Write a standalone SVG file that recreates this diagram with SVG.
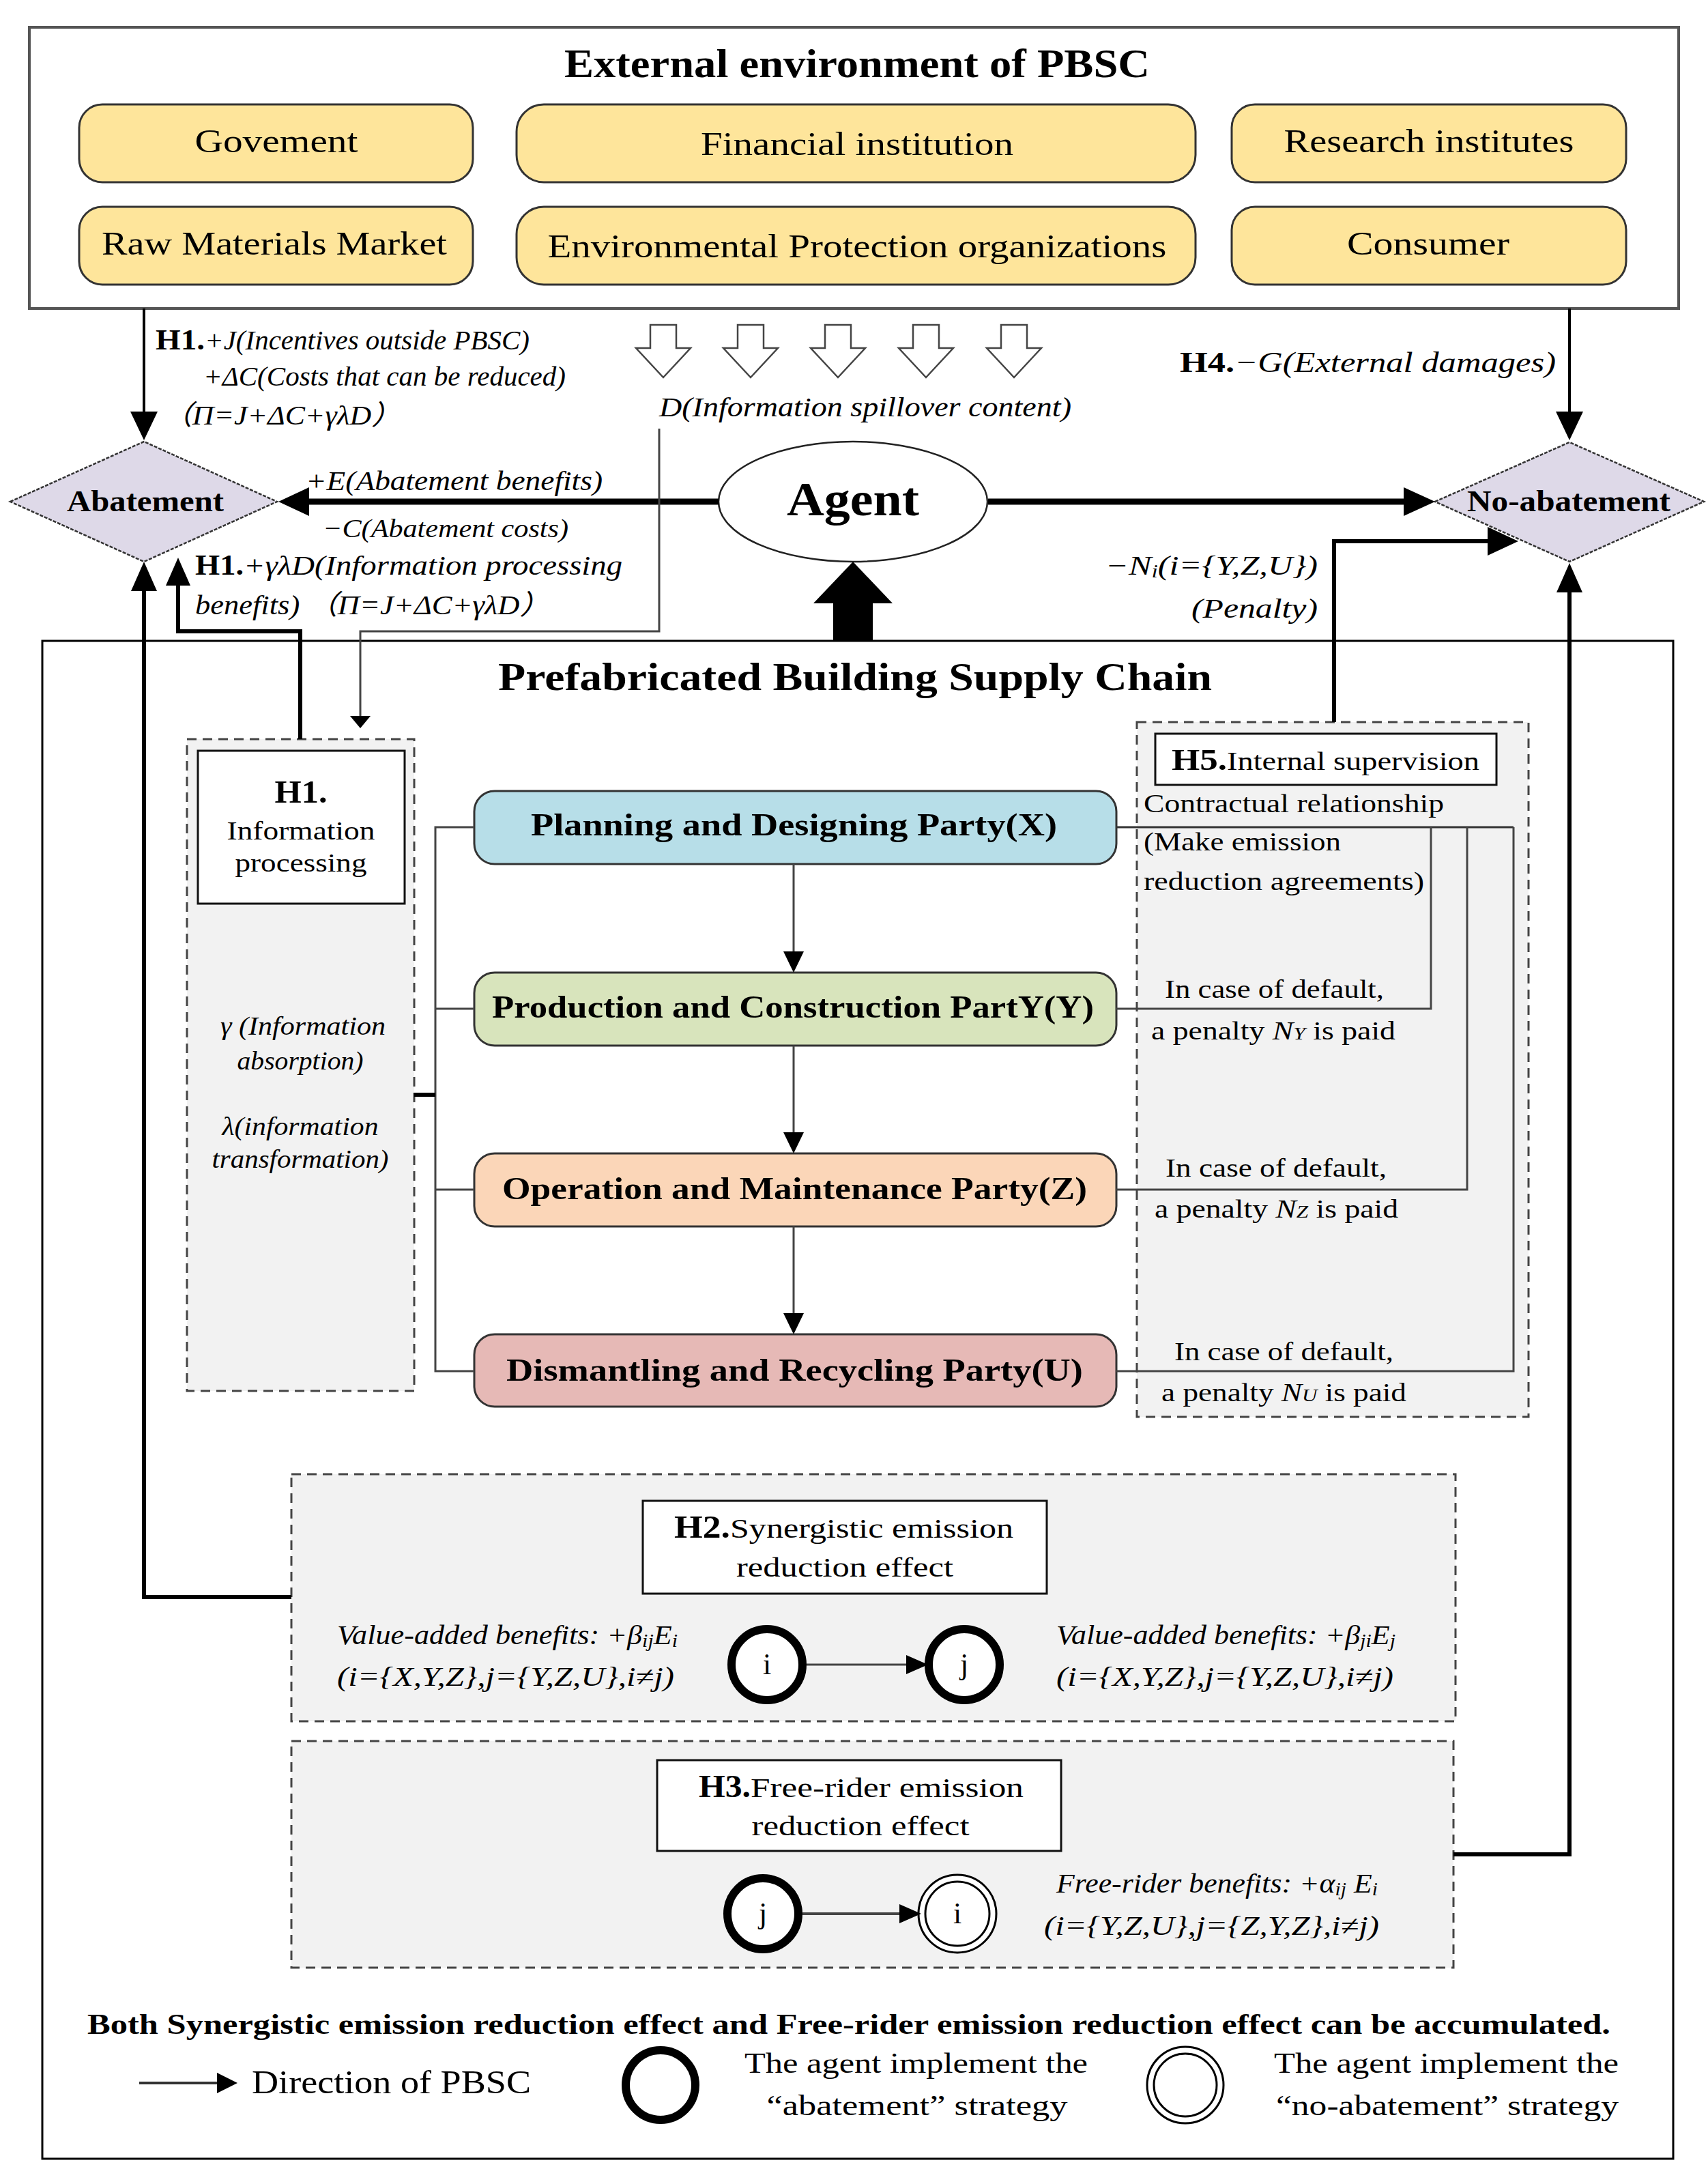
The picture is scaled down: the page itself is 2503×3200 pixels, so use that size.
<svg xmlns="http://www.w3.org/2000/svg" width="2503" height="3200" viewBox="0 0 2503 3200">
<style>
text{font-family:"Liberation Serif","Noto Sans CJK SC",serif;fill:#000}
.b{font-weight:bold}
.i{font-style:italic}
.ybox{fill:#FEE59B;stroke:#333;stroke-width:3}
.dia{fill:#DED9E8;stroke:#333;stroke-width:2.5;stroke-dasharray:5 2}
.dash{fill:#F2F2F2;stroke:#444;stroke-width:3;stroke-dasharray:14 9}
.wbox{fill:#fff;stroke:#111;stroke-width:3}
.party{stroke:#333;stroke-width:3}
.thin{fill:none;stroke:#444;stroke-width:3}
.thick{fill:none;stroke:#000;stroke-width:6}
.hollow{fill:#fff;stroke:#444;stroke-width:2.5}
.ring{fill:#fff;stroke:#000;stroke-width:12}
.dring{fill:#fff;stroke:#000;stroke-width:3}
.ah{fill:#000}
</style>
<rect width="2503" height="3200" fill="#fff"/>

<!-- External environment -->
<g id="external-environment">
<rect x="43" y="40" width="2417" height="412" fill="#fff" stroke="#555" stroke-width="4"/>
<text class="b" x="1256" y="113" font-size="60" text-anchor="middle" textLength="858" lengthAdjust="spacingAndGlyphs">External environment of PBSC</text>
</g>
<g id="govement"><rect class="ybox" x="116" y="153" width="577" height="114" rx="34"/><text x="405" y="223" font-size="48" text-anchor="middle" textLength="239" lengthAdjust="spacingAndGlyphs">Govement</text></g>
<g id="financial-institution"><rect class="ybox" x="757" y="153" width="995" height="114" rx="40"/><text x="1256" y="227" font-size="48" text-anchor="middle" textLength="458" lengthAdjust="spacingAndGlyphs">Financial institution</text></g>
<g id="research-institutes"><rect class="ybox" x="1805" y="153" width="578" height="114" rx="34"/><text x="2094" y="223" font-size="48" text-anchor="middle" textLength="425" lengthAdjust="spacingAndGlyphs">Research institutes</text></g>
<g id="raw-materials-market"><rect class="ybox" x="116" y="303" width="577" height="114" rx="34"/><text x="402" y="373" font-size="48" text-anchor="middle" textLength="506" lengthAdjust="spacingAndGlyphs">Raw Materials Market</text></g>
<g id="environmental-protection"><rect class="ybox" x="757" y="303" width="995" height="114" rx="40"/><text x="1256" y="377" font-size="48" text-anchor="middle" textLength="907" lengthAdjust="spacingAndGlyphs">Environmental Protection organizations</text></g>
<g id="consumer"><rect class="ybox" x="1805" y="303" width="578" height="114" rx="34"/><text x="2093" y="373" font-size="48" text-anchor="middle" textLength="238" lengthAdjust="spacingAndGlyphs">Consumer</text></g>

<!-- Decision nodes -->
<g id="abatement"><polygon class="dia" points="15,735 211,647 406,735 211,823"/><text class="b" x="213" y="749" font-size="44" text-anchor="middle" textLength="230" lengthAdjust="spacingAndGlyphs">Abatement</text></g>
<g id="no-abatement"><polygon class="dia" points="2103,735 2300,648 2497,735 2300,823"/><text class="b" x="2299" y="749" font-size="44" text-anchor="middle" textLength="298" lengthAdjust="spacingAndGlyphs">No-abatement</text></g>
<g id="agent"><ellipse cx="1250" cy="735" rx="197" ry="88" fill="#fff" stroke="#222" stroke-width="2.5"/><text class="b" x="1250" y="755" font-size="70" text-anchor="middle" textLength="194" lengthAdjust="spacingAndGlyphs">Agent</text></g>

<!-- PBSC frame -->
<g id="pbsc">
<rect x="62" y="939" width="2390" height="2224" fill="none" stroke="#000" stroke-width="3"/>
<text class="b" x="730" y="1011" font-size="58" textLength="1046" lengthAdjust="spacingAndGlyphs">Prefabricated Building Supply Chain</text>
</g>

<!-- H1 box -->
<g id="h1-information-processing">
<rect class="dash" x="274" y="1083" width="333" height="955"/>
<rect class="wbox" x="290" y="1100" width="303" height="224"/>
<text class="b" x="441" y="1176" font-size="46" text-anchor="middle" textLength="77" lengthAdjust="spacingAndGlyphs">H1.</text>
<text x="441" y="1230" font-size="38" text-anchor="middle" textLength="217" lengthAdjust="spacingAndGlyphs">Information</text>
<text x="441" y="1277" font-size="38" text-anchor="middle" textLength="193" lengthAdjust="spacingAndGlyphs">processing</text>
<text class="i" x="444" y="1516" font-size="38" text-anchor="middle" textLength="242" lengthAdjust="spacingAndGlyphs">γ (Information</text>
<text class="i" x="440" y="1567" font-size="38" text-anchor="middle" textLength="185" lengthAdjust="spacingAndGlyphs">absorption)</text>
<text class="i" x="440" y="1663" font-size="38" text-anchor="middle" textLength="229" lengthAdjust="spacingAndGlyphs">λ(information</text>
<text class="i" x="440" y="1711" font-size="38" text-anchor="middle" textLength="259" lengthAdjust="spacingAndGlyphs">transformation)</text>
</g>

<!-- Parties -->
<g id="party-x"><rect class="party" x="695" y="1159" width="941" height="107" rx="30" fill="#B7DEE8"/><text class="b" x="778" y="1224" font-size="46" textLength="771" lengthAdjust="spacingAndGlyphs">Planning and Designing Party(X)</text></g>
<g id="party-y"><rect class="party" x="695" y="1425" width="941" height="107" rx="30" fill="#D8E4BC"/><text class="b" x="721" y="1491" font-size="46" textLength="882" lengthAdjust="spacingAndGlyphs">Production and Construction PartY(Y)</text></g>
<g id="party-z"><rect class="party" x="695" y="1690" width="941" height="107" rx="30" fill="#FBD6B8"/><text class="b" x="736" y="1757" font-size="46" textLength="857" lengthAdjust="spacingAndGlyphs">Operation and Maintenance Party(Z)</text></g>
<g id="party-u"><rect class="party" x="695" y="1955" width="941" height="106" rx="30" fill="#E6B9B6"/><text class="b" x="742" y="2023" font-size="46" textLength="845" lengthAdjust="spacingAndGlyphs">Dismantling and Recycling Party(U)</text></g>

<!-- H5 box -->
<g id="h5-internal-supervision">
<rect class="dash" x="1666" y="1058" width="574" height="1018"/>
<rect class="wbox" x="1693" y="1075" width="500" height="75"/>
<text class="b" x="1717" y="1128" font-size="44" textLength="81" lengthAdjust="spacingAndGlyphs">H5.</text>
<text x="1798" y="1128" font-size="38" textLength="370" lengthAdjust="spacingAndGlyphs">Internal supervision</text>
<text x="1676" y="1190" font-size="38" textLength="440" lengthAdjust="spacingAndGlyphs">Contractual relationship</text>
<text x="1676" y="1246" font-size="38" textLength="289" lengthAdjust="spacingAndGlyphs">(Make emission</text>
<text x="1676" y="1304" font-size="38" textLength="411" lengthAdjust="spacingAndGlyphs">reduction agreements)</text>
<text x="1707" y="1462" font-size="38" textLength="321" lengthAdjust="spacingAndGlyphs">In case of default,</text>
<text x="1687" y="1523" font-size="38" textLength="358" lengthAdjust="spacingAndGlyphs">a penalty <tspan class="i">N</tspan><tspan class="i" font-size="26">Y</tspan> is paid</text>
<text x="1708" y="1724" font-size="38" textLength="324" lengthAdjust="spacingAndGlyphs">In case of default,</text>
<text x="1692" y="1784" font-size="38" textLength="357" lengthAdjust="spacingAndGlyphs">a penalty <tspan class="i">N</tspan><tspan class="i" font-size="26">Z</tspan> is paid</text>
<text x="1721" y="1993" font-size="38" textLength="321" lengthAdjust="spacingAndGlyphs">In case of default,</text>
<text x="1702" y="2053" font-size="38" textLength="359" lengthAdjust="spacingAndGlyphs">a penalty <tspan class="i">N</tspan><tspan class="i" font-size="26">U</tspan> is paid</text>
</g>

<!-- H2 box -->
<g id="h2-synergistic">
<rect class="dash" x="427" y="2160" width="1706" height="362"/>
<rect class="wbox" x="942" y="2199" width="592" height="136"/>
<text class="b" x="988" y="2253" font-size="46" textLength="82" lengthAdjust="spacingAndGlyphs">H2.</text>
<text x="1070" y="2253" font-size="40" textLength="415" lengthAdjust="spacingAndGlyphs">Synergistic emission</text>
<text x="1238" y="2310" font-size="40" text-anchor="middle" textLength="318" lengthAdjust="spacingAndGlyphs">reduction effect</text>
<text class="i" x="494" y="2409" font-size="40" textLength="499" lengthAdjust="spacingAndGlyphs">Value-added benefits: +β<tspan font-size="27" dy="4">ij</tspan><tspan dy="-4">E</tspan><tspan font-size="27" dy="4">i</tspan></text>
<text class="i" x="494" y="2470" font-size="40" textLength="494" lengthAdjust="spacingAndGlyphs">(i={X,Y,Z},j={Y,Z,U},i≠j)</text>
<text class="i" x="1548" y="2409" font-size="40" textLength="497" lengthAdjust="spacingAndGlyphs">Value-added benefits: +β<tspan font-size="27" dy="4">ji</tspan><tspan dy="-4">E</tspan><tspan font-size="27" dy="4">j</tspan></text>
<text class="i" x="1548" y="2470" font-size="40" textLength="494" lengthAdjust="spacingAndGlyphs">(i={X,Y,Z},j={Y,Z,U},i≠j)</text>
</g>
<g id="h2-node-i"><circle class="ring" cx="1124" cy="2439" r="52"/><text x="1124" y="2453" font-size="44" text-anchor="middle">i</text></g>
<g id="h2-node-j"><circle class="ring" cx="1413" cy="2439" r="52"/><text x="1413" y="2453" font-size="44" text-anchor="middle">j</text></g>

<!-- H3 box -->
<g id="h3-free-rider">
<rect class="dash" x="427" y="2551" width="1703" height="332"/>
<rect class="wbox" x="963" y="2579" width="592" height="133"/>
<text class="b" x="1024" y="2633" font-size="46" textLength="76" lengthAdjust="spacingAndGlyphs">H3.</text>
<text x="1100" y="2633" font-size="40" textLength="400" lengthAdjust="spacingAndGlyphs">Free-rider emission</text>
<text x="1261" y="2689" font-size="40" text-anchor="middle" textLength="319" lengthAdjust="spacingAndGlyphs">reduction effect</text>
<text class="i" x="1548" y="2773" font-size="40" textLength="471" lengthAdjust="spacingAndGlyphs">Free-rider benefits: +α<tspan font-size="27" dy="4">ij</tspan><tspan dy="-4"> E</tspan><tspan font-size="27" dy="4">i</tspan></text>
<text class="i" x="1530" y="2835" font-size="40" textLength="491" lengthAdjust="spacingAndGlyphs">(i={Y,Z,U},j={Z,Y,Z},i≠j)</text>
</g>
<g id="h3-node-j"><circle class="ring" cx="1118" cy="2804" r="52"/><text x="1118" y="2818" font-size="44" text-anchor="middle">j</text></g>
<g id="h3-node-i"><circle class="dring" cx="1403" cy="2804" r="57"/><circle class="dring" cx="1403" cy="2804" r="47"/><text x="1403" y="2818" font-size="44" text-anchor="middle">i</text></g>

<!-- Legend -->
<g id="legend">
<text class="b" x="128" y="2980" font-size="42" textLength="2232" lengthAdjust="spacingAndGlyphs">Both Synergistic emission reduction effect and Free-rider emission reduction effect can be accumulated.</text>
<line x1="204" y1="3052" x2="320" y2="3052" stroke="#333" stroke-width="4"/>
<polygon class="ah" points="348,3052 318,3037 318,3067"/>
<text x="369" y="3067" font-size="48" textLength="409" lengthAdjust="spacingAndGlyphs">Direction of PBSC</text>
<circle class="ring" cx="968" cy="3055" r="51"/>
<text x="1091" y="3037" font-size="42" textLength="503" lengthAdjust="spacingAndGlyphs">The agent implement the</text>
<text x="1344" y="3099" font-size="42" text-anchor="middle" textLength="441" lengthAdjust="spacingAndGlyphs">“abatement” strategy</text>
<circle class="dring" cx="1737" cy="3055" r="56"/><circle class="dring" cx="1737" cy="3055" r="46"/>
<text x="1867" y="3037" font-size="42" textLength="505" lengthAdjust="spacingAndGlyphs">The agent implement the</text>
<text x="2121" y="3099" font-size="42" text-anchor="middle" textLength="502" lengthAdjust="spacingAndGlyphs">“no-abatement” strategy</text>
</g>

<!-- Connectors -->
<g id="connectors">
<line x1="211" y1="452" x2="211" y2="610" stroke="#000" stroke-width="4"/>
<polygon class="ah" points="211,645 191,603 231,603"/>
<line x1="2300" y1="452" x2="2300" y2="610" stroke="#000" stroke-width="4"/>
<polygon class="ah" points="2300,645 2280,603 2320,603"/>
<polygon class="hollow" points="953,476 991,476 991,510 1012,510 972,553 932,510 953,510"/>
<polygon class="hollow" points="1081,476 1119,476 1119,510 1140,510 1100,553 1060,510 1081,510"/>
<polygon class="hollow" points="1209,476 1247,476 1247,510 1268,510 1228,553 1188,510 1209,510"/>
<polygon class="hollow" points="1338,476 1376,476 1376,510 1397,510 1357,553 1317,510 1338,510"/>
<polygon class="hollow" points="1467,476 1505,476 1505,510 1526,510 1486,553 1446,510 1467,510"/>
<line x1="1053" y1="735" x2="448" y2="735" stroke="#000" stroke-width="9"/>
<polygon class="ah" points="408,735 453,714 453,756"/>
<line x1="1448" y1="735" x2="2062" y2="735" stroke="#000" stroke-width="9"/>
<polygon class="ah" points="2103,735 2057,714 2057,756"/>
<polyline class="thin" points="966,628 966,925 528,925 528,1050"/>
<polygon class="ah" points="528,1067 513,1049 543,1049"/>
<polyline class="thick" points="440,1083 440,925 261,925 261,852"/>
<polygon class="ah" points="261,817 243,858 279,858"/>
<polyline class="thick" points="427,2340 211,2340 211,860"/>
<polygon class="ah" points="211,823 192,866 230,866"/>
<polyline class="thick" points="2130,2717 2300,2717 2300,862"/>
<polygon class="ah" points="2300,825 2281,868 2319,868"/>
<polyline class="thick" points="1955,1058 1955,793 2185,793"/>
<polygon class="ah" points="2225,793 2180,772 2180,814"/>
<rect x="1221" y="880" width="58" height="59" fill="#000"/>
<polygon class="ah" points="1250,823 1192,884 1308,884"/>
<line x1="1163" y1="1266" x2="1163" y2="1396" stroke="#444" stroke-width="3"/>
<polygon class="ah" points="1163,1425 1148,1394 1178,1394"/>
<line x1="1163" y1="1532" x2="1163" y2="1661" stroke="#444" stroke-width="3"/>
<polygon class="ah" points="1163,1690 1148,1659 1178,1659"/>
<line x1="1163" y1="1797" x2="1163" y2="1926" stroke="#444" stroke-width="3"/>
<polygon class="ah" points="1163,1955 1148,1924 1178,1924"/>
<polyline class="thin" points="695,1212 638,1212 638,2009 695,2009"/>
<line x1="638" y1="1478" x2="695" y2="1478" stroke="#444" stroke-width="3"/>
<line x1="638" y1="1743" x2="695" y2="1743" stroke="#444" stroke-width="3"/>
<line x1="607" y1="1604" x2="638" y2="1604" stroke="#000" stroke-width="6"/>
<line x1="1636" y1="1212" x2="2218" y2="1212" stroke="#333" stroke-width="3"/>
<polyline class="thin" points="2097,1212 2097,1478 1636,1478"/>
<polyline class="thin" points="2150,1212 2150,1743 1636,1743"/>
<polyline class="thin" points="2218,1212 2218,2009 1636,2009"/>
<line x1="1182" y1="2439" x2="1330" y2="2439" stroke="#444" stroke-width="3"/>
<polygon class="ah" points="1360,2439 1328,2425 1328,2453"/>
<line x1="1176" y1="2804" x2="1320" y2="2804" stroke="#444" stroke-width="4"/>
<polygon class="ah" points="1350,2804 1318,2790 1318,2818"/>
</g>

<!-- Connector labels -->
<g id="labels">
<text class="b" x="228" y="512" font-size="42" textLength="72" lengthAdjust="spacingAndGlyphs">H1.</text>
<text class="i" x="300" y="512" font-size="40" textLength="476" lengthAdjust="spacingAndGlyphs">+J(Incentives outside PBSC)</text>
<text class="i" x="298" y="565" font-size="40" textLength="531" lengthAdjust="spacingAndGlyphs">+ΔC(Costs that can be reduced)</text>
<text class="i" x="238" y="622" font-size="40" textLength="350" lengthAdjust="spacingAndGlyphs">（Π=J+ΔC+γλD）</text>
<text class="i" x="966" y="610" font-size="40" textLength="604" lengthAdjust="spacingAndGlyphs">D(Information spillover content)</text>
<text class="b" x="1729" y="545" font-size="42" textLength="80" lengthAdjust="spacingAndGlyphs">H4.</text>
<text class="i" x="1809" y="545" font-size="42" textLength="471" lengthAdjust="spacingAndGlyphs">−G(External damages)</text>
<text class="i" x="448" y="718" font-size="40" textLength="435" lengthAdjust="spacingAndGlyphs">+E(Abatement benefits)</text>
<text class="i" x="473" y="787" font-size="38" textLength="360" lengthAdjust="spacingAndGlyphs">−C(Abatement costs)</text>
<text class="b" x="286" y="842" font-size="42" textLength="71" lengthAdjust="spacingAndGlyphs">H1.</text>
<text class="i" x="357" y="842" font-size="40" textLength="555" lengthAdjust="spacingAndGlyphs">+γλD(Information processing</text>
<text class="i" x="286" y="900" font-size="40" textLength="520" lengthAdjust="spacingAndGlyphs">benefits) （Π=J+ΔC+γλD）</text>
<text class="i" x="1620" y="842" font-size="40" textLength="311" lengthAdjust="spacingAndGlyphs">−N<tspan font-size="27" dy="4">i</tspan><tspan dy="-4">(i={Y,Z,U})</tspan></text>
<text class="i" x="1931" y="905" font-size="40" text-anchor="end" textLength="185" lengthAdjust="spacingAndGlyphs">(Penalty)</text>
</g>
</svg>
